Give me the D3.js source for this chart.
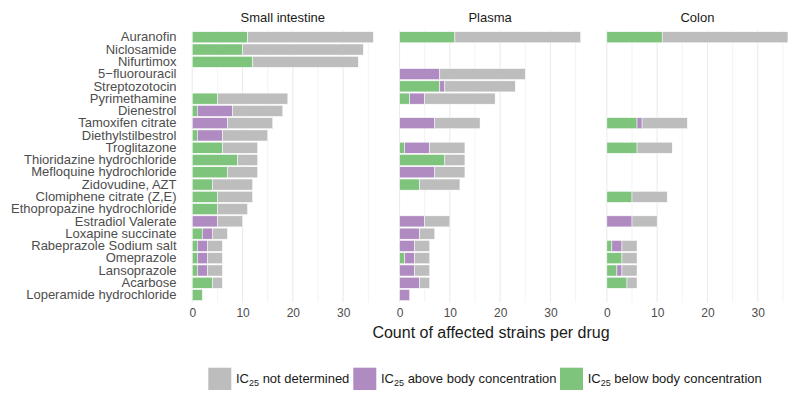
<!DOCTYPE html>
<html>
<head>
<meta charset="utf-8">
<script src="https://cdn.jsdelivr.net/npm/d3@7"></script>
<style>
  body { margin: 0; background: #fff; }
  svg { display: block; font-family: "Liberation Sans", Arial, sans-serif; }
</style>
</head>
<body>
<svg id="chart" width="800" height="401"></svg>
<script>
// ---------------- DATA ----------------
const drugs = [
  "Auranofin", "Niclosamide", "Nifurtimox", "5\u2212fluorouracil", "Streptozotocin",
  "Pyrimethamine", "Dienestrol", "Tamoxifen citrate", "Diethylstilbestrol", "Troglitazone",
  "Thioridazine hydrochloride", "Mefloquine hydrochloride", "Zidovudine, AZT",
  "Clomiphene citrate (Z,E)", "Ethopropazine hydrochloride", "Estradiol Valerate",
  "Loxapine succinate", "Rabeprazole Sodium salt", "Omeprazole", "Lansoprazole",
  "Acarbose", "Loperamide hydrochloride"
];
const panels = ["Small intestine", "Plasma", "Colon"];

// counts per segment: IC25 below body conc. (green), above body conc. (purple), not determined (grey)
const siBelow  = [11,10,12,0,0,5,1,0,1,6,9,7,4,5,5,0,2,1,1,1,4,2];
const siAbove  = [0,0,0,0,0,0,7,7,5,0,0,0,0,0,0,5,2,2,2,2,0,0];
const siNotDet = [25,24,21,0,0,14,10,9,9,7,4,6,8,7,6,5,3,3,3,3,2,0];

const plBelow  = [11,0,0,0,8,2,0,0,0,1,9,0,4,0,0,0,0,0,1,0,0,0];
const plAbove  = [0,0,0,8,1,3,0,7,0,5,0,7,0,0,0,5,4,3,2,3,4,2];
const plNotDet = [25,0,0,17,14,14,0,9,0,7,4,6,8,0,0,5,3,3,3,3,2,0];

const coBelow  = [11,0,0,0,0,0,0,6,0,6,0,0,0,5,0,0,0,1,3,2,4,0];
const coAbove  = [0,0,0,0,0,0,0,1,0,0,0,0,0,0,0,5,0,2,0,1,0,0];
const coNotDet = [25,0,0,0,0,0,0,9,0,7,0,0,0,7,0,5,0,3,3,3,2,0];

const xTicks = [0, 10, 20, 30];
const xGrid = [0, 5, 10, 15, 20, 25, 30, 35];
const seriesKeys = ["below", "above", "notdet"];
const legendKeys = ["notdet", "above", "below"];
const legendText = {
  notdet: ["IC", "25", " not determined"],
  above: ["IC", "25", " above body concentration"],
  below: ["IC", "25", " below body concentration"]
};
const colors = { below: "#7fc47c", above: "#af8bc2", notdet: "#bdbdbd" };

const panelData = [
  { below: siBelow, above: siAbove, notdet: siNotDet },
  { below: plBelow, above: plAbove, notdet: plNotDet },
  { below: coBelow, above: coAbove, notdet: coNotDet }
];

// ---------------- LAYOUT ----------------
const svg = d3.select("#chart");
const panelLeft0 = 183.2, panelW = 199.2, panelGap = 8.1;
const panelTop = 29.9, panelBottom = 302.4;

const y = d3.scaleBand()
  .domain(drugs)
  .range([panelTop, panelBottom])
  .paddingInner(0.1)
  .paddingOuter(0.15);

panels.forEach((pname, pi) => {
  const left = panelLeft0 + pi * (panelW + panelGap);
  const x = d3.scaleLinear().domain([-1.8, 37.8]).range([left, left + panelW]);
  const g = svg.append("g");

  // gridlines
  g.selectAll("line.grid").data(xGrid).enter().append("line")
    .attr("x1", d => x(d)).attr("x2", d => x(d))
    .attr("y1", panelTop).attr("y2", panelBottom)
    .attr("stroke", "#ebebeb")
    .attr("stroke-width", d => d % 10 === 0 ? 1.1 : 0.6);

  // stacked bars
  const rows = drugs.map((d, i) => {
    const o = { drug: d };
    seriesKeys.forEach(k => o[k] = panelData[pi][k][i]);
    return o;
  });
  const stacked = d3.stack().keys(seriesKeys)(rows);
  stacked.forEach(layer => {
    g.append("g").selectAll("rect").data(layer.filter(s => s[1] - s[0] > 0)).enter().append("rect")
      .attr("x", s => x(s[0]))
      .attr("width", s => x(s[1]) - x(s[0]))
      .attr("y", s => y(s.data.drug))
      .attr("height", y.bandwidth())
      .attr("fill", colors[layer.key])
      .attr("stroke", "#ffffff")
      .attr("stroke-width", 0.5);
  });

  // strip title
  svg.append("text")
    .attr("x", left + panelW / 2).attr("y", 21.5)
    .attr("text-anchor", "middle")
    .attr("font-size", 13)
    .attr("fill", "#1a1a1a")
    .text(pname);

  // x axis tick labels
  const axis = d3.axisBottom(x).tickValues(xTicks).tickSize(0).tickPadding(0);
  const ag = svg.append("g").attr("transform", `translate(0,${panelBottom + 3})`).call(axis);
  ag.select(".domain").remove();
  ag.selectAll("text")
    .attr("font-size", 12)
    .attr("font-family", "Liberation Sans, Arial, sans-serif")
    .attr("fill", "#4d4d4d")
    .attr("dy", "0.95em");
});

// y axis labels
const yAxis = d3.axisLeft(y).tickSize(0).tickPadding(0);
const yg = svg.append("g").attr("transform", `translate(176.5,0)`).call(yAxis);
yg.select(".domain").remove();
yg.selectAll("text")
  .attr("font-size", 13)
  .attr("font-family", "Liberation Sans, Arial, sans-serif")
  .attr("fill", "#4d4d4d");

// x axis title
svg.append("text")
  .attr("x", 491).attr("y", 337.5)
  .attr("text-anchor", "middle")
  .attr("font-size", 16)
  .attr("fill", "#1a1a1a")
  .text("Count of affected strains per drug");

// legend
const legendX = [208.3, 353.3, 560];
legendKeys.forEach((k, i) => {
  const lx = legendX[i];
  svg.append("rect")
    .attr("x", lx).attr("y", 367.7)
    .attr("width", 23).attr("height", 22.3)
    .attr("fill", colors[k]);
  const t = svg.append("text")
    .attr("x", lx + 27.7).attr("y", 383.3)
    .attr("font-size", 13)
    .attr("fill", "#1a1a1a");
  const parts = legendText[k];
  t.append("tspan").text(parts[0]);
  t.append("tspan").attr("font-size", 9).attr("dy", 3).text(parts[1]);
  t.append("tspan").attr("dy", -3).text(parts[2]);
});
</script>
</body>
</html>
